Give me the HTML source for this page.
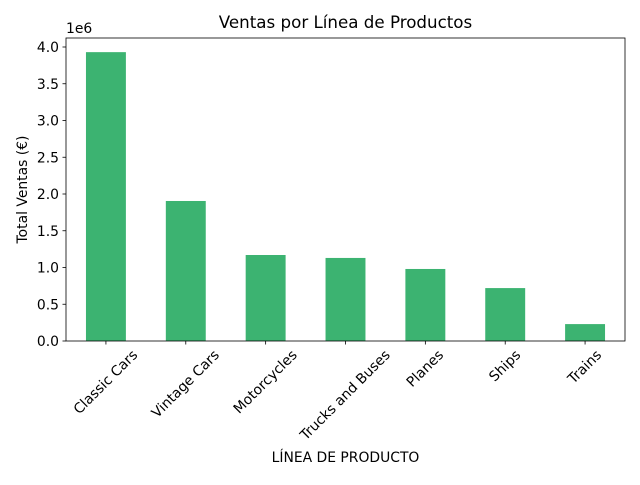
<!DOCTYPE html>
<html><head><meta charset="utf-8"><style>
body{margin:0;background:#fff;}
svg text{font-family:"DejaVu Sans","Liberation Sans",sans-serif;fill:#000;}
</style></head><body>
<svg width="640" height="480" id="chart"></svg>
<script>
const categories=["Classic Cars","Vintage Cars","Motorcycles","Trucks and Buses","Planes","Ships","Trains"];
const values=[3.93,1.905,1.17,1.13,0.98,0.72,0.23];
const yTicks=[0,0.5,1.0,1.5,2.0,2.5,3.0,3.5,4.0];
const L=66,R=625,T=38,B=341;
const yMax=(B-T)/73.5;
function y(v){return B-(v/yMax)*(B-T);}
const band=(R-L)/categories.length;
function x(i){return L+band*(i+0.5);}
const svg=document.getElementById('chart');
const NS="http://www.w3.org/2000/svg";
const FS=13.9;
function mk(tag,attrs,text){const e=document.createElementNS(NS,tag);for(const k in attrs)e.setAttribute(k,attrs[k]);if(text!==undefined)e.textContent=text;svg.appendChild(e);return e;}
categories.forEach((c,i)=>{
  const b=mk('rect',{x:x(i)-band*0.25,y:y(values[i]),width:band*0.5,height:B-y(values[i]),fill:'#3cb371'});
  
  
  const t=mk('line',{x1:x(i),x2:x(i),y1:B,y2:B+3.5,stroke:'#000','stroke-width':0.8});
  
  
  const lb=mk('text',{x:0,y:0,'font-size':FS,'text-anchor':'middle','dominant-baseline':'central'},c);
  
  
  const w=lb.getComputedTextLength();
  const hb=(w+FS)*0.7071;
  lb.setAttribute('transform',`translate(${x(i)},${B+7+hb/2}) rotate(-45)`);
});
yTicks.forEach(v=>{
  const t=mk('line',{x1:L-3.5,x2:L,y1:y(v),y2:y(v),stroke:'#000','stroke-width':0.8});
  
  
  const lb=mk('text',{x:L-7,y:y(v)+5,'font-size':FS,'text-anchor':'end'},v.toFixed(1));
  
  
});
const fr=mk('rect',{x:L,y:T,width:R-L,height:B-T,fill:'none',stroke:'#000','stroke-width':0.8});


const off=mk('text',{x:L,y:T-5,'font-size':FS},'1e6');


const ti=mk('text',{x:(L+R)/2,y:T-10,'font-size':16.7,'text-anchor':'middle'},'Ventas por Línea de Productos');


const xt=mk('text',{x:(L+R)/2,y:462,'font-size':FS,'text-anchor':'middle'},'LÍNEA DE PRODUCTO');


const yt=mk('text',{x:0,y:0,'font-size':FS,'text-anchor':'middle',transform:`translate(27,${(T+B)/2}) rotate(-90)`},'Total Ventas (€)');


</script>
</body></html>
